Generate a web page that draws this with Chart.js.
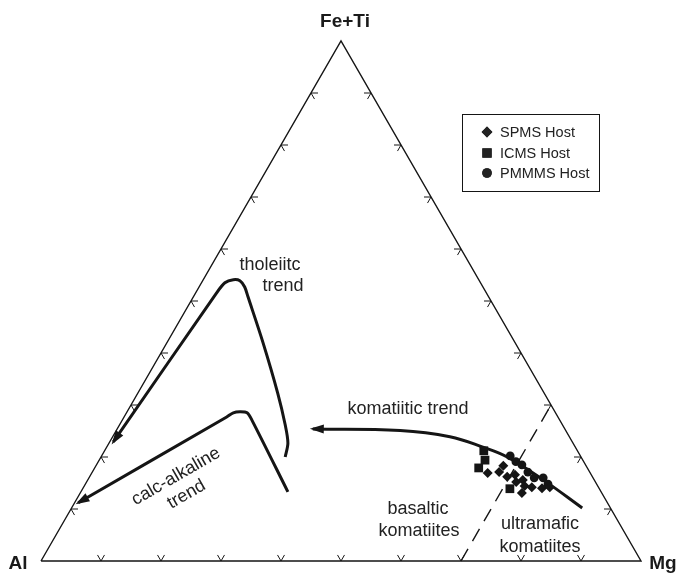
<!DOCTYPE html>
<html>
<head>
<meta charset="utf-8">
<script src="https://cdn.jsdelivr.net/npm/chart.js@4"></script>
<style>
  html, body { margin: 0; padding: 0; background: #ffffff; }
  #wrap { width: 678px; height: 576px; }
</style>
</head>
<body>
<div id="wrap"><canvas id="jensen" width="678" height="576"></canvas></div>
<script>
// Cation proportions, each point is [Mg %, Fe+Ti %]; Al is the remainder.
const apexLabels = ['Al', 'Mg', 'Fe+Ti'];
const tickSteps = [10, 20, 30, 40, 50, 60, 70, 80, 90];

const spmsHost = [
  [66.0, 16.9], [67.9, 18.3], [67.8, 17.1], [69.6, 16.2], [70.7, 16.6],
  [71.6, 15.2], [72.5, 15.6], [73.4, 14.4], [73.6, 13.1], [74.7, 14.2],
  [76.5, 14.0], [77.7, 14.2]
];
const icmsHost = [
  [63.2, 21.2], [64.3, 19.4], [64.0, 17.9], [71.2, 13.9]
];
const pmmmsHost = [
  [68.1, 20.2], [69.6, 19.1], [70.9, 18.5], [72.6, 17.1], [74.2, 16.0],
  [75.7, 16.0], [77.1, 14.8]
];

// Trend lines, listed from the arrow tip backwards
const tholeiiticTrend = [
  [0.6, 22.9], [3.5, 51.6], [3.9, 53.5], [5.0, 54.1], [6.2, 53.9], [7.6, 52.7],
  [9.1, 50.8], [16.0, 42.0], [23.3, 32.3], [27.6, 26.2], [29.8, 22.7], [30.7, 20.0]
];
const calcAlkalineTrend = [
  [0.6, 11.2], [17.1, 27.7], [17.8, 28.5], [18.8, 28.7], [20.1, 28.5],
  [21.6, 27.1], [34.5, 13.3]
];
const komatiiticTrend = [
  [32.6, 25.4], [47.3, 25.1], [56.2, 23.9], [62.7, 21.9],
  [67.7, 20.0], [75.9, 15.6], [85.1, 10.2]
];
// Boundary between basaltic and ultramafic komatiites (Mg = 70 %)
const komatiiteDivide = [[70, 0], [70, 30]];

const H = Math.sqrt(3) / 2;
const toXY = ([mg, feti]) => ({ x: mg + feti / 2, y: feti * H });
const frame = [[0, 0], [100, 0], [0, 100], [0, 0]];

const FONT = '"Liberation Sans", Arial, Helvetica, sans-serif';
const INK = '#151515';

const lineSet = (data, width, extra) => Object.assign({
  data: data.map(toXY), showLine: true, borderColor: INK, borderWidth: width,
  pointRadius: 0, pointHoverRadius: 0, fill: false, clip: false, order: 2
}, extra || {});

const markerSet = (label, data, style, radius) => ({
  label, data: data.map(toXY), showLine: false, pointStyle: style,
  pointRadius: radius, pointHoverRadius: radius, backgroundColor: INK,
  borderColor: INK, borderWidth: 0, clip: false, order: 0
});

const markers = [
  markerSet('SPMS Host', spmsHost, 'rectRot', 5),
  markerSet('ICMS Host', icmsHost, 'rect', 6.2),
  markerSet('PMMMS Host', pmmmsHost, 'circle', 4.4)
];

const ternaryDecor = {
  id: 'ternaryDecor',
  afterDatasetsDraw(chart) {
    const ctx = chart.ctx;
    const sx = chart.scales.x, sy = chart.scales.y;
    const px = (p) => { const q = toXY(p); return [sx.getPixelForValue(q.x), sy.getPixelForValue(q.y)]; };
    ctx.save();
    ctx.strokeStyle = INK;
    ctx.fillStyle = INK;

    // Tick stubs along the grid directions on each side
    const L = 7;
    const stub = (p, dirs) => {
      const [x, y] = px(p);
      dirs.forEach(([dx, dy]) => {
        ctx.beginPath(); ctx.moveTo(x, y); ctx.lineTo(x + dx * L, y + dy * L); ctx.stroke();
      });
    };
    ctx.lineWidth = 1;
    tickSteps.forEach(t => {
      stub([t, 0], [[0.5, -H], [-0.5, -H]]);
      stub([100 - t, t], [[-1, 0], [-0.5, H]]);
      stub([0, t], [[1, 0], [0.5, H]]);
    });

    // Arrowheads at the start of each trend
    [tholeiiticTrend, calcAlkalineTrend, komatiiticTrend].forEach(tr => {
      const [x0, y0] = px(tr[0]);
      const [x1, y1] = px(tr[1]);
      const d = Math.hypot(x0 - x1, y0 - y1);
      const ux = (x0 - x1) / d, uy = (y0 - y1) / d;
      const tx = x0 + ux * 3, ty = y0 + uy * 3;
      const bx = tx - ux * 14, by = ty - uy * 14;
      const w = 4.5;
      ctx.beginPath();
      ctx.moveTo(tx, ty);
      ctx.lineTo(bx - uy * w, by + ux * w);
      ctx.lineTo(bx + uy * w, by - ux * w);
      ctx.closePath();
      ctx.fill();
    });

    // Apex labels
    ctx.fillStyle = '#1a1a1a';
    ctx.textAlign = 'center';
    ctx.textBaseline = 'alphabetic';
    ctx.font = 'bold 19px ' + FONT;
    const [ax, ay] = px([0, 0]);
    const [mx, my] = px([100, 0]);
    const [fx, fy] = px([0, 100]);
    ctx.fillText(apexLabels[0], ax - 23, ay + 8);
    ctx.fillText(apexLabels[1], mx + 22, my + 8);
    ctx.fillText(apexLabels[2], fx + 4, fy - 14);

    // Field and trend annotations
    ctx.font = '18px ' + FONT;
    ctx.fillStyle = '#222222';
    const put = (txt, x, y) => ctx.fillText(txt, x, y);
    put('tholeiitc', 270, 270);
    put('trend', 283, 291);
    put('komatiitic trend', 408, 414);
    put('basaltic', 418, 514);
    put('komatiites', 419, 536);
    put('ultramafic', 540, 529);
    put('komatiites', 540, 552);

    ctx.save();
    ctx.translate(181, 485);
    ctx.rotate(-30 * Math.PI / 180);
    ctx.textBaseline = 'middle';
    ctx.fillText('calc-alkaline', 0, -10);
    ctx.fillText('trend', 0, 11);
    ctx.restore();

    // Legend box
    ctx.lineWidth = 1;
    ctx.strokeStyle = INK;
    ctx.strokeRect(462.5, 114.5, 137, 77);
    ctx.font = '14.5px ' + FONT;
    ctx.textAlign = 'left';
    ctx.textBaseline = 'middle';
    const rows = [132, 153, 173];
    markers.forEach((ds, i) => {
      Chart.helpers.drawPoint(ctx, {
        pointStyle: ds.pointStyle, radius: ds.pointRadius + 0.4, rotation: 0, borderWidth: 0
      }, 487, rows[i]);
      ctx.fill();
      ctx.fillText(ds.label, 500, rows[i] + 1);
    });
    ctx.restore();
  }
};

new Chart(document.getElementById('jensen'), {
  type: 'scatter',
  data: {
    datasets: [
      lineSet(frame, 1.4, { order: 3 }),
      lineSet(komatiiteDivide, 1.4, { borderDash: [14, 9], order: 3 }),
      lineSet(tholeiiticTrend, 3, { tension: 0.3 }),
      lineSet(calcAlkalineTrend, 3, { tension: 0.3 }),
      lineSet(komatiiticTrend, 3, { tension: 0.4 }),
      ...markers
    ]
  },
  options: {
    responsive: false,
    animation: false,
    devicePixelRatio: 1,
    layout: { padding: { left: 41, right: 37, top: 41, bottom: 15 } },
    scales: {
      x: { type: 'linear', min: 0, max: 100, display: false },
      y: { type: 'linear', min: 0, max: 100 * H, display: false }
    },
    plugins: { legend: { display: false }, tooltip: { enabled: false } },
    events: []
  },
  plugins: [ternaryDecor]
});
</script>
</body>
</html>
